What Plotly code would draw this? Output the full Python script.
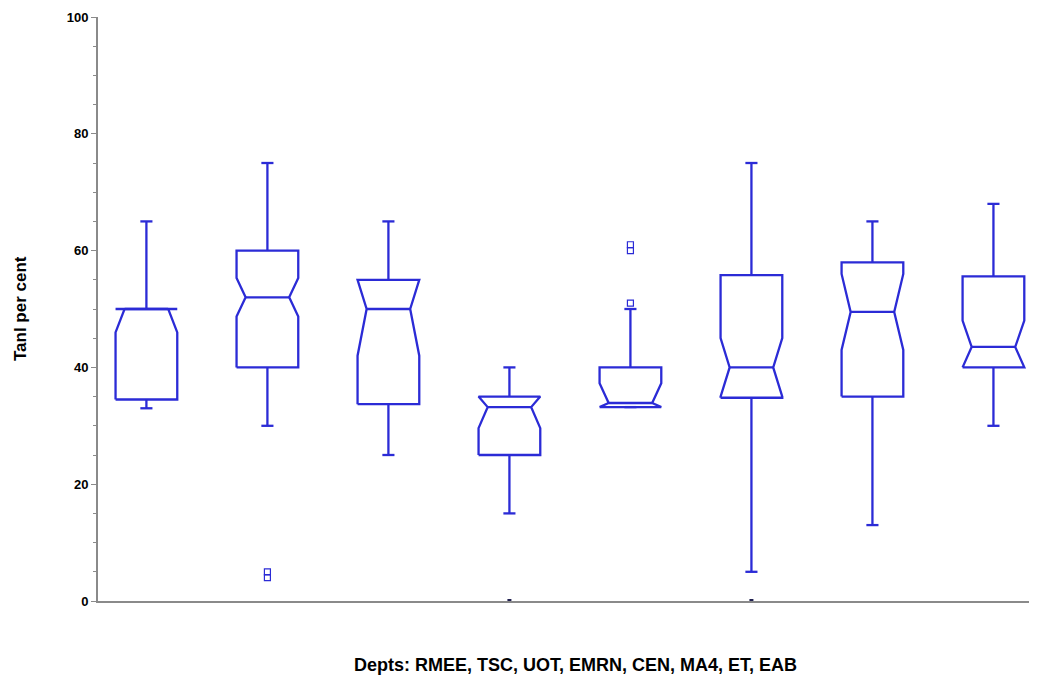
import plotly.graph_objects as go

depts = ["RMEE", "TSC", "UOT", "EMRN", "CEN", "MA4", "ET", "EAB"]
lower_fence = [33, 30, 25, 15, 33.2, 5, 13, 30]
q1 = [34.5, 40, 33.7, 25, 33.2, 34.8, 35, 40]
median = [50, 52, 50, 33.2, 33.9, 40, 49.5, 43.5]
q3 = [50, 60, 55, 35, 40, 55.8, 58, 55.6]
upper_fence = [65, 75, 65, 40, 50, 75, 65, 68]
notch_span = [4, 3.3, 8, 3.6, 3.4, 5, 6.5, 4.5]

# outliers (open squares) and zero values (small dots on the axis)
out_dept = ["TSC", "TSC", "CEN", "CEN", "CEN"]
out_val = [4, 5, 51, 60, 61]
zero_dept = ["EMRN", "MA4"]
zero_val = [0, 0]

blue = "#2b2bd6"
half = 0.255   # half box width (x units)
inset = 0.075  # notch depth at the median
cap = 0.05     # half whisker cap width

# notched outlines, notch ends clipped to the box like the original software does
xs, ys = [], []
for i, d in enumerate(depts):
    lo = max(q1[i], median[i] - notch_span[i])
    hi = min(q3[i], median[i] + notch_span[i])
    l, r = i - half, i + half
    xs += [l, l, l + inset, l, l, r, r, r - inset, r, r, l, None]
    ys += [q1[i], lo, median[i], hi, q3[i], q3[i], hi, median[i], lo, q1[i], q1[i], None]
    # median line
    xs += [l + inset, r - inset, None]
    ys += [median[i], median[i], None]
    # whiskers and caps
    xs += [i, i, None, i, i, None, i - cap, i + cap, None, i - cap, i + cap, None]
    ys += [q3[i], upper_fence[i], None, q1[i], lower_fence[i], None,
           upper_fence[i], upper_fence[i], None, lower_fence[i], lower_fence[i], None]

fig = go.Figure()
fig.add_trace(go.Scatter(
    x=xs, y=ys, mode="lines", line=dict(color=blue, width=2.3),
    showlegend=False, hoverinfo="skip",
))
fig.add_trace(go.Scatter(
    x=[depts.index(d) for d in out_dept], y=out_val, mode="markers",
    marker=dict(symbol="square-open", size=6, color=blue, line=dict(width=1.2)),
    showlegend=False, cliponaxis=False,
))
fig.add_trace(go.Scatter(
    x=[depts.index(d) for d in zero_dept], y=zero_val, mode="markers",
    marker=dict(symbol="square", size=4, color="#202050"),
    showlegend=False, cliponaxis=False,
))

font = "Liberation Sans, Arial, sans-serif"
# the page body has an 8px margin, so the figure is sized to fit the window
fig.update_layout(
    width=1029, height=674,
    margin=dict(l=90, r=0, t=9, b=81),
    paper_bgcolor="white", plot_bgcolor="white",
    font=dict(family=font, color="black", size=13),
    xaxis=dict(
        range=[-0.4, 7.36], tickvals=list(range(len(depts))), ticktext=depts,
        showticklabels=False, ticks="", automargin=False,
        showgrid=False, zeroline=False,
        showline=True, linecolor="#8a8a8a", linewidth=2,
    ),
    yaxis=dict(
        range=[0, 100], tickvals=[0, 20, 40, 60, 80, 100], automargin=False,
        ticks="outside", ticklen=5, tickcolor="#8a8a8a", tickwidth=1,
        minor=dict(dtick=5, ticks="outside", ticklen=3, tickcolor="#8a8a8a"),
        tickfont=dict(size=13, family=font, weight="bold"),
        showgrid=False, zeroline=False,
        showline=True, linecolor="#8a8a8a", linewidth=2,
    ),
    annotations=[
        dict(text="Tanl per cent", textangle=-90, xref="paper", yref="paper",
             x=-0.083, y=0.5, xanchor="center", yanchor="middle", showarrow=False,
             font=dict(size=17, family=font, weight="bold")),
        dict(text="Depts: RMEE, TSC, UOT, EMRN, CEN, MA4, ET, EAB", xref="paper", yref="paper",
             x=0.509, y=-0.109, xanchor="center", yanchor="middle", showarrow=False,
             font=dict(size=18, family=font, weight="bold")),
    ],
)

fig.write_html("out.html")
